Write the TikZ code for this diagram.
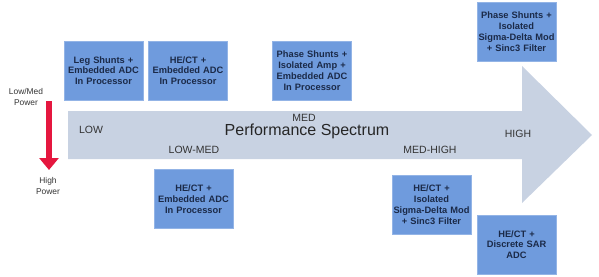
\documentclass[tikz,border=0pt]{standalone}
\usepackage{fontspec}
\setmainfont{Liberation Sans}
\usepackage{tikz}
\usetikzlibrary{arrows.meta}
\usepackage{xcolor}
\definecolor{boxblue}{HTML}{6F9BDD}
\definecolor{boxedge}{HTML}{93B4E6}
\definecolor{boxtext}{HTML}{1B2A48}
\definecolor{spectrum}{HTML}{C8D2E2}
\definecolor{powerred}{HTML}{E5173F}
\definecolor{labelgray}{HTML}{333333}

\begin{document}
\begin{tikzpicture}[x=1pt, y=-1pt,
  solution/.style={draw=boxedge, line width=0.8pt, fill=boxblue, text=boxtext,
    minimum width=79pt, minimum height=59pt, inner sep=0pt, text width=79pt,
    align=center, font=\fontsize{9.3}{10.8}\selectfont\bfseries},
  level/.style={text=labelgray, font=\fontsize{10.5}{12}\selectfont},
  power/.style={text=labelgray, align=center, font=\fontsize{8.4}{10.6}\selectfont}]
  \useasboundingbox (0,0) rectangle (599,276);
  % Spectrum arrow
  \fill[spectrum] (68,111) -- (522,111) -- (522,66) -- (592,135)
    -- (522,203) -- (522,159) -- (68,159) -- cycle;
  % Levels along the arrow
  \node[level] (low) at (91,130) {LOW};
  \node[level] (lowmed) at (194,150) {LOW-MED};
  \node[level] (med) at (304,118) {MED};
  \node[font=\fontsize{16}{18}\selectfont, text=black!85] (title) at (307,131) {Performance Spectrum};
  \node[level] (medhigh) at (430,150) {MED-HIGH};
  \node[level] (high) at (518,134) {HIGH};
  % Boxes above the arrow
  \node[solution] (legshunt) at (103.5,70.5) {Leg Shunts +\\Embedded ADC\\In Processor};
  \node[solution] (hectup) at (188,70.5) {HE/CT +\\Embedded ADC\\In Processor};
  \node[solution] (phaseamp) at (312,70.5) {Phase Shunts +\\Isolated Amp +\\Embedded ADC\\In Processor};
  \node[solution] (phasesd) at (516.5,31.5) {Phase Shunts +\\Isolated\\Sigma-Delta Mod\\+ Sinc3 Filter};
  % Boxes below the arrow
  \node[solution] (hectlow) at (193.5,199) {HE/CT +\\Embedded ADC\\In Processor};
  \node[solution] (hectsd) at (431.5,204.5) {HE/CT +\\Isolated\\Sigma-Delta Mod\\+ Sinc3 Filter};
  \node[solution] (hectsar) at (516.5,244.5) {HE/CT +\\Discrete SAR\\ADC};
  % Power arrow
  \node[power] (lowpower) at (26,97) {Low/Med\\Power};
  \node[power] (highpower) at (48,186) {High\\Power};
  \coordinate (pwrtop) at (49,101);
  \coordinate (pwrbot) at (49,170);
  \draw[powerred, line width=5.6pt, -{Triangle[width=19pt, length=12pt]}] (pwrtop) -- (pwrbot);
\end{tikzpicture}
\end{document}
